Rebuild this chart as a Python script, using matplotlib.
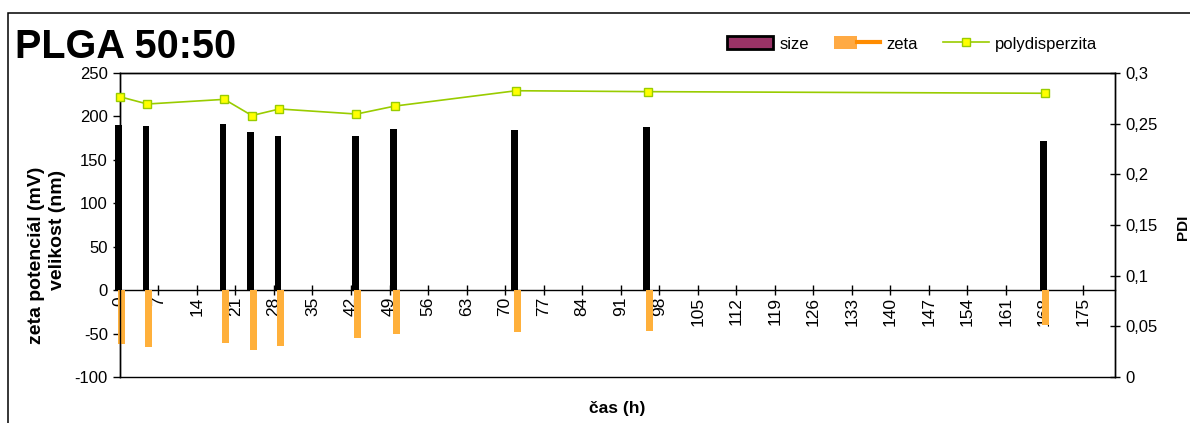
import matplotlib
matplotlib.use("Agg")
import matplotlib.pyplot as plt
from matplotlib.patches import Patch, Rectangle
from matplotlib.lines import Line2D
from matplotlib.legend_handler import HandlerTuple
from matplotlib.ticker import FuncFormatter
import numpy as np

# Measurements of PLGA 50:50 nanoparticles over time
time_h = [0, 5, 19, 24, 29, 43, 50, 72, 96, 168]
size_nm = [190, 188.5, 191, 182, 177, 177, 186, 184.5, 187.5, 172]
zeta_mv = [-61.5, -65.4, -60.4, -68.4, -64.2, -55.0, -50.7, -48.4, -46.9, -40.4]
pdi = [0.2766, 0.2694, 0.2740, 0.2580, 0.2645, 0.2595, 0.2674, 0.2825, 0.2816, 0.2800]

x_ticks = list(range(0, 176, 7))
left_ticks = [-100, -50, 0, 50, 100, 150, 200, 250]
right_ticks = [0, 0.05, 0.1, 0.15, 0.2, 0.25, 0.3]

plt.rcParams['font.family'] = ['Liberation Sans', 'DejaVu Sans']
plt.rcParams['axes.unicode_minus'] = False

W, H = 1190, 423
fig = plt.figure(figsize=(W / 100, H / 100), dpi=100)

ax = fig.add_axes([119.8 / W, 46 / H, (1115 - 119.8) / W, (377 - 73) / H])
ax2 = ax.twinx()

# x axis runs through zero; the twin's bottom spine closes the plot area
ax.spines['bottom'].set_position(('data', 0))
for sp in list(ax.spines.values()) + list(ax2.spines.values()):
    sp.set_linewidth(1.0)

t = np.array(time_h, dtype=float)
bar_w = 1.25
size_color = 'black'
zeta_color = '#FFB03B'

ax.bar(t - 0.25, size_nm, width=bar_w, color=size_color, linewidth=0, zorder=2, clip_on=False)
ax.bar(t + 0.25, zeta_mv, width=bar_w, color=zeta_color, linewidth=0, zorder=3, clip_on=False)

ax2.plot(t, pdi, color='#99CC00', lw=1.2, marker='s', markersize=5.5,
         markerfacecolor='#FFFF00', markeredgecolor='#99CC00', markeredgewidth=1.0,
         zorder=4, clip_on=False)

ax.set_xlim(0, 180.8)
ax.set_ylim(-100, 250)
ax2.set_ylim(0, 0.3)

ax.set_xticks(x_ticks)
ax.set_xticklabels([str(v) for v in x_ticks])
ax.set_yticks(left_ticks)
ax2.set_yticks(right_ticks)
ax2.yaxis.set_major_formatter(FuncFormatter(lambda v, p: f'{v:g}'.replace('.', ',')))

tick_fs = 12
ax.tick_params(axis='x', direction='inout', length=6.5, width=1.0, pad=1.5,
               labelsize=12.5, labelrotation=90)
ax.tick_params(axis='y', direction='out', length=5, width=1.0, pad=3.5, labelsize=tick_fs)
ax2.tick_params(axis='y', direction='inout', length=7, width=1.0, pad=4, labelsize=tick_fs)

# Titles and axis labels
fig.text(15 / W, 1 - 58 / H, 'PLGA 50:50', fontsize=28.5, fontweight='bold', ha='left', va='baseline')
fig.text(37 / W, 1 - 255 / H, 'zeta potenciál (mV)', rotation=90, fontsize=14,
         fontweight='bold', ha='center', va='center')
fig.text(57 / W, 1 - 230 / H, 'velikost (nm)', rotation=90, fontsize=14,
         fontweight='bold', ha='center', va='center')
fig.text(1183 / W, 1 - 227 / H, 'PDI', rotation=90, fontsize=11,
         fontweight='bold', ha='center', va='center')
fig.text(617 / W, 1 - 408 / H, 'čas (h)', fontsize=12.5, fontweight='bold', ha='center', va='center')

# Legend
h_size = Patch(facecolor='#993366', edgecolor='black', linewidth=2)
h_zeta = (Patch(facecolor='#FFAA44', edgecolor='none'), Line2D([], [], color='#FF8C00', lw=3))
h_pdi = Line2D([], [], color='#99CC00', lw=1.2, marker='s', markersize=5.5,
               markerfacecolor='#FFFF00', markeredgecolor='#99CC00')
fig.legend([h_size, h_zeta, h_pdi], ['size', 'zeta', 'polydisperzita'],
           handler_map={tuple: HandlerTuple(ndivide=None, pad=0)},
           loc='center', bbox_to_anchor=(912 / W, 1 - 44 / H), ncol=3, frameon=False,
           fontsize=12, handlelength=2.8, handleheight=0.8, handletextpad=0.35,
           columnspacing=1.5, borderaxespad=0, borderpad=0)

# Chart area border
fig.add_artist(Rectangle((7.5 / W, -0.1), 1.2, 1 - 13.5 / H + 0.1, transform=fig.transFigure,
                         fill=False, edgecolor='black', linewidth=1.1))

fig.savefig('out.png', dpi=100)
